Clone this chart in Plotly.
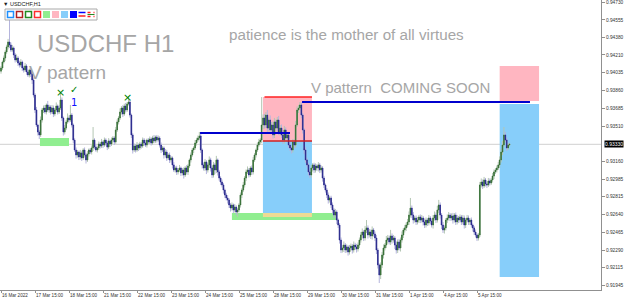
import plotly.graph_objects as go

# ---------------- data (prices in units of 0.00001) ----------------
first_open = 94050
closes = [
    94081, 94140, 94179, 94238, 94288, 94337, 94307,
    94258, 94278, 94209, 94160, 94179, 94130, 94110,
    94140, 94081, 94061, 94101, 94042, 94012, 94061,
    94022, 93963, 93815, 93668, 93520, 93451, 93422,
    93569, 93668, 93687, 93648, 93717, 93668, 93697,
    93648, 93687, 93628, 93668, 93707, 93648, 93687,
    93766, 93589, 93451, 93490, 93550, 93589, 93569,
    93618, 93520, 93372, 93274, 93225, 93254, 93205,
    93245, 93196, 93274, 93225, 93176, 93235, 93274,
    93254, 93294, 93372, 93303, 93274, 93294, 93333,
    93313, 93353, 93323, 93372, 93343, 93303, 93363,
    93333, 93372, 93392, 93353, 93471, 93550, 93589,
    93648, 93687, 93628, 93707, 93668, 93727, 93746,
    93618, 93422, 93274, 93313, 93274, 93323, 93294,
    93333, 93313, 93372, 93343, 93323, 93372, 93353,
    93382, 93343, 93392, 93363, 93402, 93372, 93392,
    93323, 93274, 93294, 93225, 93254, 93196, 93225,
    93176, 93196, 93127, 93077, 93097, 93058, 93077,
    93097, 93048, 93077, 93028, 93097, 93058, 93117,
    93176, 93225, 93274, 93294, 93343, 93372, 93392, 93412,
    93274, 93127, 93097, 93156, 93077, 93127, 93176,
    93097, 93028, 93127, 93077, 93176, 93058, 92998,
    92959, 92930, 92880, 92831, 92802, 92782, 92733,
    92703, 92733, 92684, 92713, 92664, 92684, 92733,
    92831, 92880, 92930, 92998, 93058, 93077, 93028,
    93097, 93058, 93176, 93225, 93274, 93323, 93353,
    93372, 93520, 93589, 93520, 93618, 93490, 93569,
    93471, 93520, 93422, 93550, 93490, 93569, 93451,
    93490, 93422, 93372, 93471, 93392, 93422, 93323,
    93294, 93274, 93353, 93323, 93520, 93668, 93687,
    93717, 93618, 93471, 93274, 93176, 93127, 93058,
    93028, 93097, 93127, 93077, 93117, 93097, 93127,
    93077, 93097, 92998, 92930, 92880, 92831, 92782,
    92802, 92733, 92684, 92634, 92664, 92585, 92536,
    92388, 92290, 92310, 92339, 92290, 92320, 92270,
    92310, 92329, 92290, 92339, 92320, 92300, 92339,
    92388, 92438, 92467, 92408, 92487, 92507, 92438,
    92467, 92428, 92487, 92447, 92408, 92290, 92143, 92044,
    92143, 92241, 92310, 92339, 92388, 92408, 92369,
    92428, 92388, 92408, 92339, 92290, 92369, 92310,
    92388, 92438, 92487, 92507, 92536, 92566, 92634,
    92703, 92634, 92585, 92605, 92566, 92585, 92615,
    92585, 92605, 92566, 92536, 92585, 92556, 92605,
    92575, 92536, 92605, 92634, 92585, 92684, 92733,
    92634, 92536, 92487, 92507, 92585, 92605, 92634,
    92605, 92625, 92585, 92634, 92566, 92605, 92585,
    92615, 92566, 92605, 92536, 92585, 92605, 92566,
    92585, 92536, 92507, 92467, 92438, 92408, 92438, 92930,
    92959, 92920, 92979, 92940, 92930, 92969, 92949,
    92979, 93018, 93058, 93077, 93097, 93127, 93176,
    93254, 93323, 93422, 93372, 93294, 93323, 93330,
]
upper_wick = [
    20, 15, 25, 18, 22, 30, 236,
    25, 30, 15, 20, 35, 18, 22,
    28, 15, 20, 30, 18, 25, 15,
    20, 15, 25, 18, 30, 12, 20,
    35, 20, 25, 30, 15, 40, 22,
    18, 30, 25, 20, 35, 15, 28,
    69, 25, 15, 30, 20, 45, 25,
    99, 20, 15, 18, 25, 20, 15,
    30, 22, 18, 25, 20, 28, 15,
    20, 25, 128, 18, 22, 15, 25,
    20, 30, 15, 25, 18, 22, 28,
    15, 25, 20, 18, 30, 25, 20,
    35, 20, 28, 22, 30, 18, 59,
    20, 15, 18, 25, 20, 30, 15,
    22, 18, 25, 20, 30, 15, 20,
    25, 18, 22, 30, 15, 20, 25,
    18, 25, 20, 15, 30, 22, 18,
    25, 20, 15, 28, 18, 22, 20,
    30, 15, 20, 25, 18, 28, 20,
    15, 25, 20, 18, 30, 22, 25, 39,
    20, 15, 25, 30, 18, 20, 35,
    22, 18, 30, 20, 40, 15, 20,
    18, 25, 20, 15, 22, 28, 18,
    20, 25, 15, 30, 18, 22, 20,
    25, 18, 30, 20, 25, 35, 20,
    18, 25, 30, 20, 15, 25, 30,
    20, 275, 35, 40, 30, 50, 25,
    45, 30, 35, 40, 25, 30, 40,
    30, 35, 20, 40, 25, 30, 20,
    25, 20, 30, 25, 40, 35, 30,
    29, 25, 20, 18, 30, 22, 20,
    25, 30, 18, 22, 25, 20, 28,
    20, 25, 18, 22, 15, 20, 25,
    18, 22, 25, 20, 30, 18, 15,
    20, 25, 30, 35, 20, 25, 18,
    30, 25, 20, 35, 22, 30, 25,
    25, 30, 35, 20, 40, 78, 25,
    30, 25, 35, 20, 25, 30, 20, 15,
    25, 30, 35, 20, 40, 30, 25,
    60, 25, 30, 20, 35, 25, 30,
    25, 35, 20, 30, 25, 30, 35,
    99, 25, 30, 20, 25, 30, 20,
    25, 30, 20, 35, 25, 20, 30,
    20, 25, 30, 35, 25, 40, 50,
    25, 20, 30, 25, 20, 35, 30,
    20, 25, 30, 20, 25, 30, 20,
    25, 20, 30, 25, 20, 30, 25,
    20, 25, 15, 20, 25, 15, 20, 30,
    35, 25, 30, 20, 25, 30, 25,
    20, 30, 25, 20, 25, 30, 35,
    30, 40, 78, 30, 25, 20, 15,
]
lower_wick = [
    25, 20, 15, 30, 20, 25, 30,
    20, 18, 30, 25, 20, 30, 25,
    20, 30, 25, 18, 28, 20, 25,
    30, 40, 25, 30, 20, 35, 40,
    20, 25, 30, 18, 25, 20, 30,
    25, 20, 30, 22, 18, 25, 20,
    20, 30, 35, 25, 20, 18, 25,
    20, 25, 30, 20, 35, 25, 30,
    25, 30, 20, 25, 35, 20, 25,
    20, 25, 30, 22, 18, 25, 20,
    25, 20, 30, 18, 25, 30, 20,
    30, 20, 25, 30, 18, 20, 25,
    20, 25, 30, 18, 25, 20, 15,
    25, 30, 35, 20, 25, 18, 30,
    20, 25, 18, 30, 20, 25, 22,
    20, 25, 18, 22, 20, 25, 18,
    25, 30, 20, 35, 25, 30, 20,
    30, 25, 35, 20, 25, 30, 25,
    20, 30, 25, 35, 20, 25, 30,
    20, 25, 18, 30, 20, 25, 18, 20,
    30, 35, 25, 30, 40, 25, 30,
    35, 30, 25, 40, 30, 35, 25,
    30, 25, 35, 30, 25, 35, 30,
    35, 25, 30, 25, 30, 49, 25,
    25, 30, 20, 25, 30, 20, 25,
    20, 30, 25, 20, 25, 20, 18,
    25, 30, 40, 35, 30, 45, 35,
    30, 40, 35, 30, 45, 35, 30,
    35, 30, 40, 35, 30, 40, 30,
    30, 35, 25, 30, 25, 20, 30,
    20, 30, 35, 40, 30, 25, 35,
    30, 25, 35, 30, 25, 30, 35,
    30, 25, 35, 30, 25, 30, 35,
    25, 30, 35, 30, 25, 40, 30,
    35, 30, 25, 40, 30, 25, 35,
    25, 30, 35, 25, 30, 35, 25,
    30, 25, 35, 30, 25, 30, 35,
    25, 30, 35, 25, 30, 40, 35, 79,
    40, 30, 35, 25, 30, 35, 25,
    30, 35, 25, 40, 35, 30, 25,
    35, 25, 30, 25, 30, 25, 30,
    25, 30, 35, 25, 30, 25, 30,
    30, 25, 35, 30, 25, 30, 25,
    30, 25, 35, 25, 30, 25, 30,
    35, 40, 30, 35, 25, 30, 25,
    30, 25, 35, 25, 30, 25, 30,
    25, 30, 25, 35, 30, 25, 30,
    30, 25, 35, 30, 25, 30, 25, 20,
    25, 30, 20, 25, 30, 20, 25,
    20, 25, 30, 20, 25, 20, 30,
    25, 30, 20, 25, 30, 20, 15,
]

x_tick_labels = ["16 Mar 2022", "17 Mar 15:00", "18 Mar 15:00", "21 Mar 15:00",
                 "22 Mar 15:00", "23 Mar 15:00", "24 Mar 15:00", "25 Mar 15:00",
                 "28 Mar 15:00", "29 Mar 15:00", "30 Mar 15:00", "31 Mar 15:00",
                 "1 Apr 15:00", "4 Apr 15:00", "5 Apr 15:00"]
bars_per_label = 24
y_tick_prices = [0.94730, 0.94555, 0.94380, 0.94210, 0.94035, 0.93860, 0.93685,
                 0.93510, 0.93160, 0.92985, 0.92815, 0.92640, 0.92465,
                 0.92290, 0.92115, 0.91945]
current_price = 0.93330

# zones drawn on chart: (bar_from, bar_to, price_low, price_high, colour)
zones = [
    (27.5, 48.0, 0.93313, 0.93392, "#90EE90"),
    (163.0, 237.0, 0.92585, 0.92654, "#90EE90"),
    (184.9, 219.5, 0.93363, 0.93796, "#FFB6C1"),
    (184.9, 219.5, 0.92654, 0.93363, "#87CEFA"),
    (184.9, 219.5, 0.92615, 0.92654, "#EEDB94"),
    (352.0, 379.8, 0.93756, 0.94101, "#FFB6C1"),
    (352.0, 379.8, 0.92024, 0.93727, "#87CEFA"),
]
# level lines: (bar_from, bar_to, price, colour, width)
levels = [
    (140.5, 204.0, 0.93441, "#0000CD", 2),
    (212.5, 373.4, 0.93746, "#0000CD", 2),
    (186.0, 219.5, 0.93796, "#FF2020", 1.5),
    (184.9, 219.5, 0.93363, "#D02020", 1.5),
]
# small marks: (bar, price, text, colour, size)
marks = [
    (42.3, 0.93840, "×", "#008000", 11),
    (89.6, 0.93790, "×", "#008000", 11),
    (51.6, 0.93872, "✓", "#008000", 10),
    (51.6, 0.93745, "1", "#1010FF", 10),
]

# ---------------- derived OHLC ----------------
n = min(len(closes), len(upper_wick), len(lower_wick))
c = [v / 1e5 for v in closes[:n]]
o = [first_open / 1e5] + c[:-1]
h = [max(a, b) + u / 1e5 for a, b, u in zip(o, c, upper_wick[:n])]
l = [min(a, b) - d / 1e5 for a, b, d in zip(o, c, lower_wick[:n])]
x = list(range(n))
body_hi = [max(a, b) for a, b in zip(o, c)]
body_lo = [min(a, b) for a, b in zip(o, c)]

# ---------------- layout geometry ----------------
W, H = 625, 301
ML, MR, MT, MB = 0, 24, 0, 11
PW, PH = W - ML - MR, H - MT - MB
PX_PER_BAR = 34 / 24.0
x_lo = (0 - 1) / PX_PER_BAR
x_hi = (PW - 1) / PX_PER_BAR
y_top = 0.94750
y_bot = y_top - PH * 0.0000984


def px(xp):
    return xp / PW


def py(yp):
    return 1 - yp / PH


fig = go.Figure()
# halo / wick layer
fig.add_trace(go.Candlestick(
    x=x, open=o, high=h, low=l, close=c,
    increasing=dict(line=dict(color="#B4C6B4", width=1), fillcolor="#B4C6B4"),
    decreasing=dict(line=dict(color="#B4B4DC", width=1), fillcolor="#B4B4DC"),
    whiskerwidth=0, hoverinfo="skip", showlegend=False))
# body layer
fig.add_trace(go.Candlestick(
    x=x, open=o, high=body_hi, low=body_lo, close=c,
    increasing=dict(line=dict(color="#2E6A2E", width=0.6), fillcolor="#2E6A2E"),
    decreasing=dict(line=dict(color="#202088", width=0.6), fillcolor="#202088"),
    whiskerwidth=0, hoverinfo="skip", showlegend=False))

shapes = []
# current price line (behind everything)
shapes.append(dict(type="line", xref="paper", yref="y", x0=0, x1=1,
                   y0=current_price, y1=current_price,
                   line=dict(color="#D0D0D0", width=1), layer="below"))
for b0, b1, p0, p1, col in zones:
    shapes.append(dict(type="rect", xref="x", yref="y", x0=b0, x1=b1, y0=p0, y1=p1,
                       fillcolor=col, line=dict(width=0), layer="below"))
for b0, b1, p, col, wd in levels:
    shapes.append(dict(type="line", xref="x", yref="y", x0=b0, x1=b1, y0=p, y1=p,
                       line=dict(color=col, width=wd), layer="above"))

# toolbar (terminal UI decoration, top-left)
shapes.append(dict(type="rect", xref="paper", yref="paper", x0=px(5), x1=px(97),
                   y0=py(20), y1=py(9), fillcolor="white",
                   line=dict(color="#A8A8A8", width=1), layer="above"))
icon_outline = ["#1E90FF", "#B22222", "#228B22", "#FF3030"]
for k, col in enumerate(icon_outline):
    x0 = 7.5 + 9 * k
    shapes.append(dict(type="rect", xref="paper", yref="paper", x0=px(x0), x1=px(x0 + 6),
                       y0=py(17.5), y1=py(11.5), fillcolor="white",
                       line=dict(color=col, width=1.5), layer="above"))
icon_fill = ["#90EE90", "#FFB6C1", "#87CEFA", "#0000FF"]
for k, col in enumerate(icon_fill):
    x0 = 43 + 9 * k
    shapes.append(dict(type="rect", xref="paper", yref="paper", x0=px(x0), x1=px(x0 + 7),
                       y0=py(18), y1=py(11), fillcolor=col, line=dict(width=0), layer="above"))
shapes.append(dict(type="line", xref="paper", yref="paper", x0=px(78.5), x1=px(85.5),
                   y0=py(12.5), y1=py(12.5), line=dict(color="#0000FF", width=1.5), layer="above"))
shapes.append(dict(type="line", xref="paper", yref="paper", x0=px(78.5), x1=px(85.5),
                   y0=py(16), y1=py(16), line=dict(color="#FF2020", width=1.5), layer="above"))
shapes.append(dict(type="line", xref="paper", yref="paper", x0=px(87.5), x1=px(94.5),
                   y0=py(12.5), y1=py(12.5), line=dict(color="#FF2020", width=1.5, dash="dot"), layer="above"))
shapes.append(dict(type="line", xref="paper", yref="paper", x0=px(87.5), x1=px(94.5),
                   y0=py(14.5), y1=py(14.5), line=dict(color="#228B22", width=1), layer="above"))
shapes.append(dict(type="line", xref="paper", yref="paper", x0=px(87.5), x1=px(94.5),
                   y0=py(16.5), y1=py(16.5), line=dict(color="#FF2020", width=1.5, dash="dot"), layer="above"))

ann = []
FONT = "Liberation Sans, Arial, sans-serif"
ann.append(dict(text="USDCHF H1", xref="paper", yref="paper", x=px(35), y=py(44),
                xanchor="left", yanchor="middle", showarrow=False,
                font=dict(family=FONT, size=24, color="#A6A6A6")))
ann.append(dict(text="V pattern", xref="paper", yref="paper", x=px(27), y=py(73),
                xanchor="left", yanchor="middle", showarrow=False,
                font=dict(family=FONT, size=19, color="#A6A6A6")))
ann.append(dict(text="patience is the mother of all virtues", xref="paper", yref="paper",
                x=px(227), y=py(34), xanchor="left", yanchor="middle", showarrow=False,
                font=dict(family=FONT, size=15.2, color="#A6A6A6")))
ann.append(dict(text="V pattern\u00a0\u00a0COMING SOON", xref="paper", yref="paper",
                x=px(309), y=py(87), xanchor="left", yanchor="middle", showarrow=False,
                font=dict(family=FONT, size=15, color="#A6A6A6")))
ann.append(dict(text="▼ USDCHF,H1", xref="paper", yref="paper", x=px(1), y=py(4.5),
                xanchor="left", yanchor="middle", showarrow=False,
                font=dict(family=FONT, size=5.5, color="#202020")))
for b, p, t, col, sz in marks:
    ann.append(dict(text=t, xref="x", yref="y", x=b, y=p, xanchor="center", yanchor="middle",
                    showarrow=False, font=dict(family="DejaVu Sans", size=sz, color=col)))
ann.append(dict(text="0.93330", xref="paper", yref="y", x=1, y=current_price,
                xanchor="left", yanchor="middle", xshift=3, showarrow=False,
                bgcolor="#000000", borderpad=0,
                font=dict(family=FONT, size=5, color="#FFFFFF")))

fig.update_layout(
    width=W, height=H, margin=dict(l=ML, r=MR, t=MT, b=MB, autoexpand=False),
    paper_bgcolor="white", plot_bgcolor="white", showlegend=False,
    shapes=shapes, annotations=ann,
    font=dict(family=FONT, size=5, color="#333333"),
)
fig.update_xaxes(
    range=[x_lo, x_hi], rangeslider_visible=False, showgrid=False, zeroline=False,
    tickmode="array", tickvals=[k * bars_per_label for k in range(len(x_tick_labels))],
    ticktext=x_tick_labels, ticks="outside", ticklen=2, tickcolor="#909090",
    tickangle=0, automargin=False, ticklabeloverflow="allow",
    ticklabelposition="outside right", tickfont=dict(size=4.6, color="#333333"),
    showline=True, linecolor="#909090", linewidth=1, mirror=True,
)
fig.update_yaxes(
    side="right", range=[y_bot, y_top], showgrid=False, zeroline=False, automargin=False,
    ticklabeloverflow="allow",
    tickmode="array", tickvals=y_tick_prices, ticktext=[f"{p:.5f}" for p in y_tick_prices],
    ticks="outside", ticklen=3, tickcolor="#909090", tickfont=dict(size=4.8, color="#333333"),
    showline=True, linecolor="#909090", linewidth=1, mirror=True,
)

fig.write_html("out.html")
